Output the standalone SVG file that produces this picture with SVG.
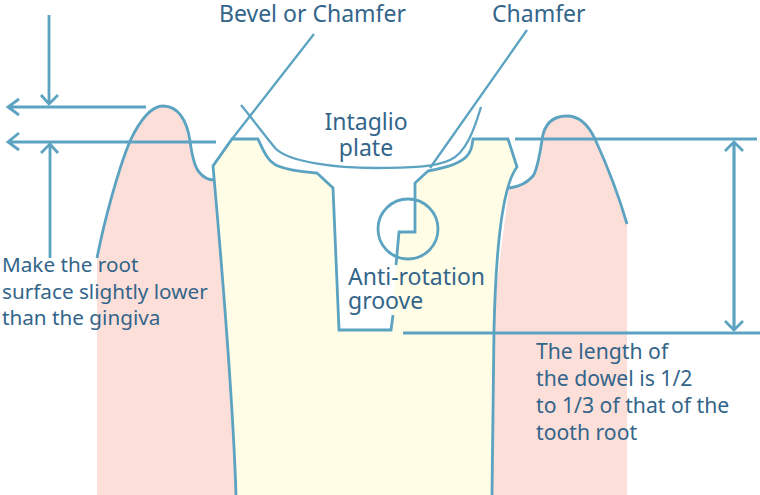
<svg xmlns="http://www.w3.org/2000/svg" width="760" height="495" viewBox="0 0 760 495">
<style>
.l{fill:none;stroke:#5ba3c1;stroke-width:2.8;stroke-linejoin:miter}
.t{stroke-width:2.3}
.d{stroke-width:3.2}
.x{font-family:"Noto Sans",sans-serif;font-size:20.7px;fill:#33658a}
.r{font-size:21.2px}
.b{font-size:23px}
</style>
<rect width="760" height="495" fill="#fff"/>
<g id="left-gingiva">
<path d="M97 495V258C104 222 118 170 130 141C141 118 152 106 163 106C178 106 187 120 190 141C192 156 194 166 199 172C203 177 208 180 214 180L250 495Z" fill="#fddfd9"/>
<path class="l" d="M97 258C104 222 118 170 130 141C141 118 152 106 163 106C178 106 187 120 190 141C192 156 194 166 199 172C203 177 208 180 214 180"/>
</g>
<g id="right-gingiva">
<path d="M627 495V224C618 193 606 163 595 139C587 122 577 116 567 116C553 116 544 124 542 140C539 160 537 170 533 176C527 183 518 187 509 188L470 495Z" fill="#fddfd9"/>
<path class="l" d="M627 224C618 193 606 163 595 139C587 122 577 116 567 116C553 116 544 124 542 140C539 160 537 170 533 176C527 183 518 187 509 188"/>
</g>
<g id="tooth">
<path d="M236 495C233 400 224 290 213 166L232 139H258C264 152 268 162 278 166C290 171 305 172 317 173L333 188L339 330H391L399 232H415V183L428 171C445 168 460 163 466 157C471 152 472 147 473 139H508L517 167C503 185 496 240 494 330L492 495Z" fill="#fffde6"/>
<path class="l" d="M236 495C233 400 224 290 213 166L232 139H258C264 152 268 162 278 166C290 171 305 172 317 173L333 188L339 330H391L393 315M396 265L399 232H415V183L428 171C445 168 460 163 466 157C471 152 472 147 473 139H508L517 167C503 185 496 240 494 330L492 495"/>
</g>
<g id="intaglio-plate">
<path class="l t" d="M241 105C255 122 268 140 276 149C290 162 335 168 375 168C410 168 435 167 450 160C466 153 474 130 481 107"/>
</g>
<g id="anti-rotation-circle">
<circle class="l" cx="408" cy="229" r="30"/>
</g>
<g id="connectors">
<path class="l" d="M146 107H8M216 142H8M19 99L8 107L19 115M19 133L8 142L19 150"/>
<path class="l" d="M49 15V104M41 95L49 104L58 95M50 145V258M41 153L50 144L58 153"/>
<path class="l t" d="M232 139L314 34M430 168L527 30"/>
<path class="l" d="M515 139H757"/>
<path class="l d" d="M403 333H760"/>
<path class="l d" d="M734 142V330"/>
<path class="l" d="M725 151L734 142L743 151M725 321L734 330L743 321"/>
</g>
<g id="labels">
<text class="x b" x="219" y="22">Bevel or Chamfer</text>
<text class="x b" x="492" y="22">Chamfer</text>
<text class="x b" x="366" y="130" text-anchor="middle">Intaglio</text>
<text class="x b" x="366" y="156" text-anchor="middle">plate</text>
<text class="x b" x="348" y="285">Anti-rotation</text>
<text class="x b" x="348" y="309">groove</text>
<text class="x" x="2" y="272">Make the root</text>
<text class="x" x="2" y="299">surface slightly lower</text>
<text class="x" x="2" y="325">than the gingiva</text>
<text class="x r" x="536" y="359">The length of</text>
<text class="x r" x="536" y="386">the dowel is 1/2</text>
<text class="x r" x="536" y="413">to 1/3 of that of the</text>
<text class="x r" x="536" y="440">tooth root</text>
</g>
</svg>
